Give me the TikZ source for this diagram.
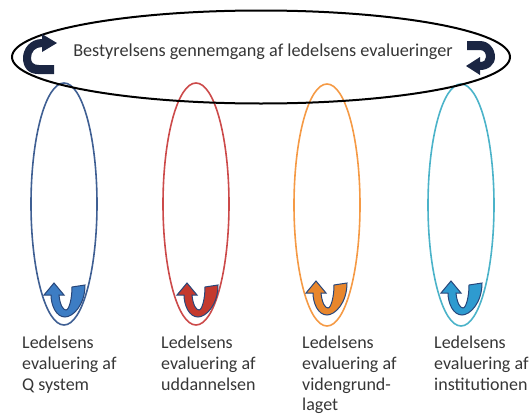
\documentclass[tikz,border=0pt]{standalone}
\usepackage{fontspec}
\setmainfont{Carlito}
\usetikzlibrary{shapes.geometric}

\definecolor{txt}{HTML}{363636}
\definecolor{navy}{HTML}{1B2643}
\definecolor{ellblue}{HTML}{3F5F93}
\definecolor{ellred}{HTML}{CC4A4A}
\definecolor{ellorange}{HTML}{F59A45}
\definecolor{ellaqua}{HTML}{4BB3C9}
\definecolor{ublue}{HTML}{3D7DC4}
\definecolor{ured}{HTML}{C4392E}
\definecolor{uorange}{HTML}{E8862C}
\definecolor{uaqua}{HTML}{2E9BD0}
\definecolor{uedge}{HTML}{27467A}

\tikzset{
  board/.style={draw=black, line width=2pt, ellipse, minimum width=498pt, minimum height=93pt, inner sep=0pt},
  loop/.style={ellipse, line width=1.6pt, minimum width=66pt, minimum height=242pt, inner sep=0pt},
  lbl/.style={anchor=north west, align=left, inner sep=0pt, text=txt,
              font=\fontsize{18}{20.7}\selectfont},
  uturn/.style={line width=1pt, draw=uedge},
  uarrow/.pic={
    \path[pic actions] (-11,-34) -- (-1,-22) -- (-6,-22)
      .. controls (-5,-12) and (-2,-7) .. (1,-7)
      .. controls (4,-7) and (7,-18) .. (7,-30) -- (20,-32)
      .. controls (20,-12) and (8,0) .. (0,0)
      .. controls (-9,0) and (-14,-12) .. (-14,-22) -- (-21,-22) -- cycle;
  }
}

\begin{document}
\begin{tikzpicture}[x=1pt, y=-1pt]
  \useasboundingbox (0,0) rectangle (532,415);

  % four evaluation loops
  \node[loop, draw=ellblue]   (qsys) at (64,204) {};
  \node[loop, draw=ellred]    (udd)  at (196,204) {};
  \node[loop, draw=ellorange] (vid)  at (327,205) {};
  \node[loop, draw=ellaqua]   (inst) at (461,205) {};

  % board review
  \node[board] (review) at (261,57) {};
  \node[anchor=base, inner sep=0pt, text=txt, font=\fontsize{18.2}{21}\selectfont]
    (reviewtxt) at (263,56) {Bestyrelsens gennemgang af ledelsens evalueringer};

  % curved arrows inside the board ellipse
  \fill[navy] (57,43) -- (42,34) -- (42,39)
      .. controls (30,39) and (23,49) .. (23,58)
      .. controls (23,67) and (28,74) .. (38,74) -- (54,74) -- (54,65) -- (39,65)
      .. controls (33,65) and (31,62) .. (31,58)
      .. controls (31,52) and (35,47) .. (42,47) -- (42,52) -- cycle;
  \fill[navy] (467,41) -- (480,41)
      .. controls (489,41) and (495,49) .. (495,57)
      .. controls (495,65) and (488,70) .. (480,70) -- (480,75) -- (466,66)
      -- (480,57) -- (480,62)
      .. controls (484,62) and (486,60) .. (486,57)
      .. controls (486,53) and (484,50) .. (480,50) -- (467,50) -- cycle;

  % U-turn arrows at the bottom of each loop
  \pic[uturn, fill=ublue]   at (65,317)  {uarrow};
  \pic[uturn, fill=ured]    at (198,317) {uarrow};
  \pic[uturn, fill=uorange] at (327,315) {uarrow};
  \pic[uturn, fill=uaqua]   at (462,315) {uarrow};

  % labels
  \node[lbl] (lq) at (22,336)  {Ledelsens\\evaluering af\\Q system};
  \node[lbl] (lu) at (161,336) {Ledelsens\\evaluering af\\uddannelsen};
  \node[lbl] (lv) at (302,336) {Ledelsens\\evaluering af\\videngrund-\\laget};
  \node[lbl] (li) at (434,336) {Ledelsens\\evaluering af\\institutionen};
\end{tikzpicture}
\end{document}
